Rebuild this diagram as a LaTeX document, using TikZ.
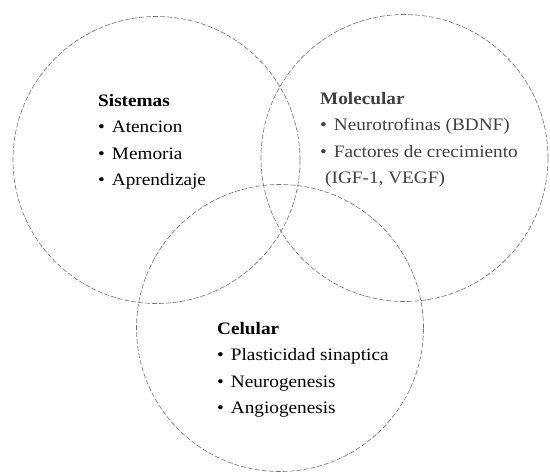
\documentclass[tikz,border=0pt]{standalone}
\usepackage{fontspec}
\setmainfont{Liberation Serif}[FakeStretch=1.1]
\tikzset{
  ring/.style={draw=black!55, dashed, dash pattern=on 5pt off 2pt, line width=0.6pt},
  block/.style={anchor=base west, align=left, inner sep=0pt,
    font=\fontsize{17.5}{26.5}\selectfont},
}
\newcommand{\itm}{\textbullet\hspace{7pt}}
\begin{document}
\begin{tikzpicture}[x=1pt,y=-1pt]
  \useasboundingbox (0,0) rectangle (550,472);
  \coordinate (sis) at (156.5,160);
  \coordinate (mol) at (404.5,158);
  \coordinate (cel) at (280,328);
  % the three circles
  \draw[ring] (sis) circle[radius=143.5pt];
  \draw[ring] (mol) circle[radius=143.5pt];
  \draw[ring] (cel) circle[radius=143.5pt];
  % texts (anchored on the last line)
  \node[block] (tsis) at (98,185.5) {\textbf{Sistemas}\\ \itm Atencion\\ \itm Memoria\\ \itm Aprendizaje};
  \node[block, text=black!75] (tmol) at (320,183.5) {\textbf{Molecular}\\ \itm Neurotrofinas (BDNF)\\ \itm Factores de crecimiento\\ \hspace*{5pt}(IGF-1, VEGF)};
  \node[block] (tcel) at (217,413.5) {\textbf{Celular}\\ \itm Plasticidad sinaptica\\ \itm Neurogenesis\\ \itm Angiogenesis};
\end{tikzpicture}
\end{document}
